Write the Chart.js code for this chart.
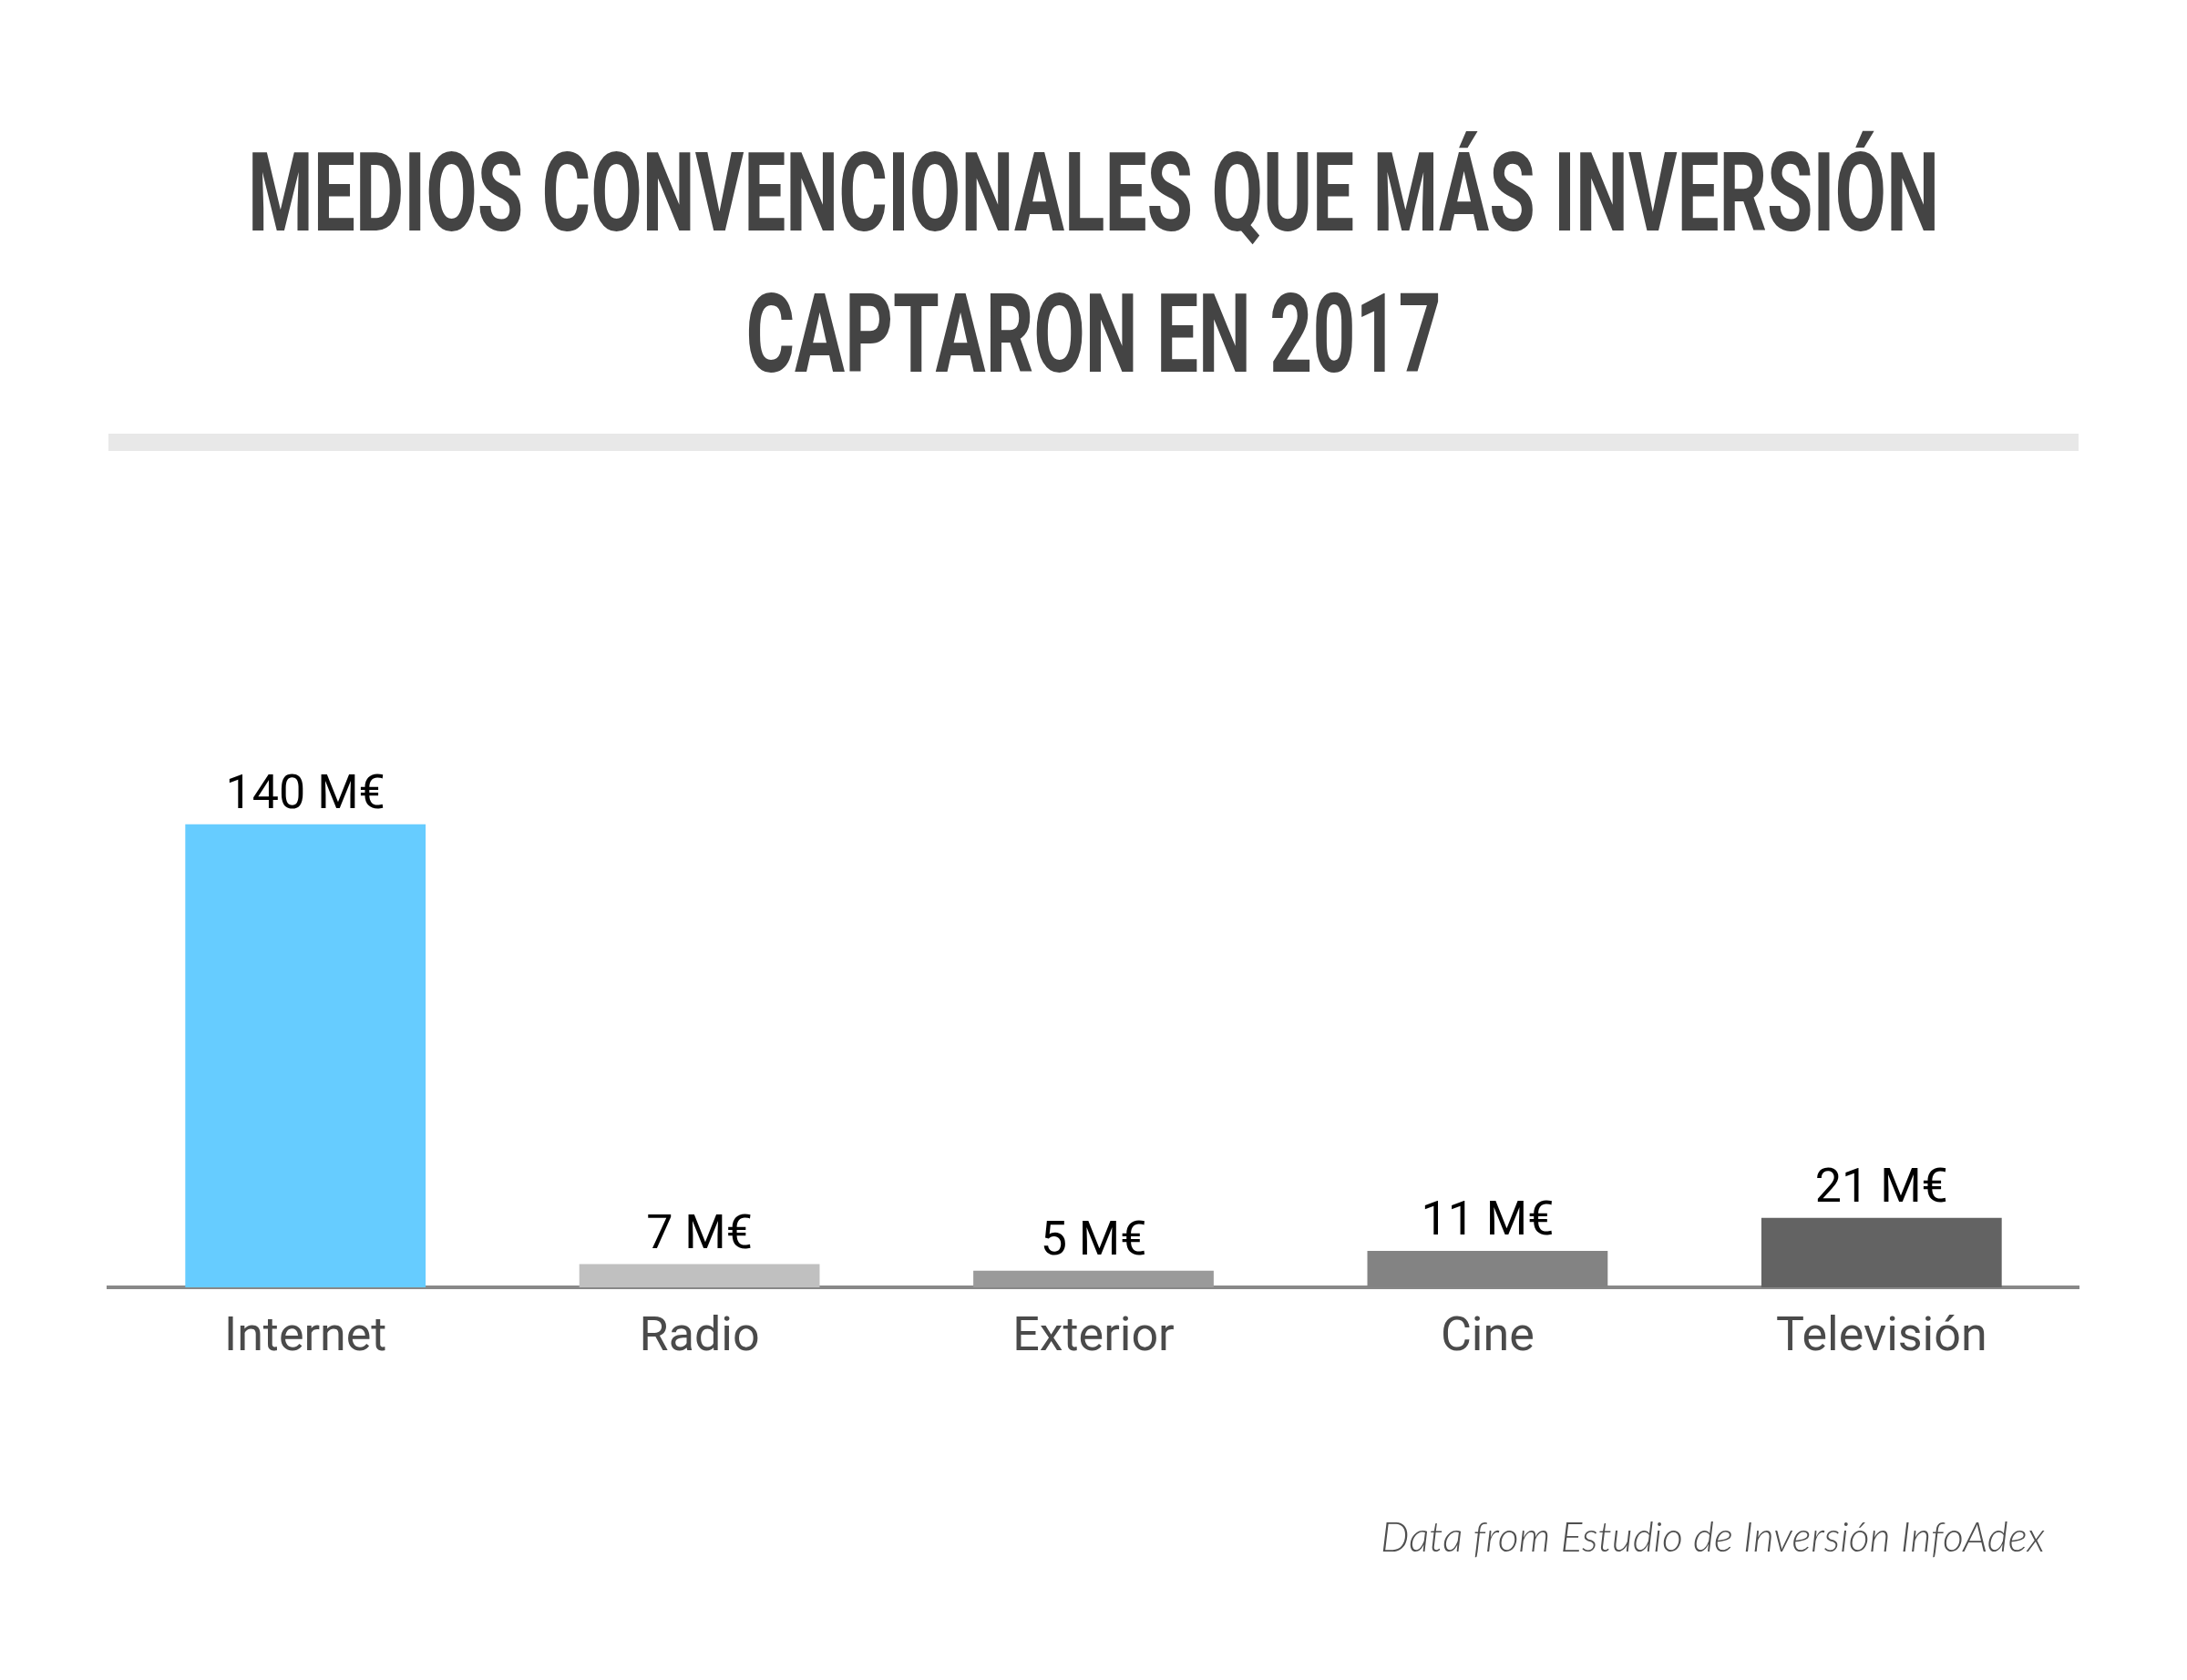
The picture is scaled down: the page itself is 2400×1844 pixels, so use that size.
<!DOCTYPE html>
<html>
<head>
<meta charset="utf-8">
<script src="https://cdn.jsdelivr.net/npm/chart.js@4/dist/chart.umd.min.js"></script>
<style>
  html, body { margin: 0; padding: 0; background: #fff; }
  #wrap { position: relative; width: 2400px; height: 1844px; }
</style>
</head>
<body>
<div id="wrap"><canvas id="myChart"></canvas></div>
<script>
let medios = ['Internet', 'Radio', 'Exterior', 'Cine', 'Televisión'];
let inversion = [140, 7, 5, 11, 21];
let colores = ['#66ccff', '#c0c0c0', '#9a9a9a', '#838383', '#636363'];
let unidad = ' M€';
let titulo = ['MEDIOS CONVENCIONALES QUE MÁS INVERSIÓN', 'CAPTARON EN 2017'];
let fuente = 'Data from Estudio de Inversión InfoAdex';

// title, grey rule and source note
const decor = {
    id: 'decor',
    beforeDraw(chart) {
        const c = chart.ctx;
        c.save();
        c.fillStyle = '#fff';
        c.fillRect(0, 0, chart.width, chart.height);

        c.fillStyle = '#444444';
        c.font = 'bold 121px Roboto, "Liberation Sans", sans-serif';
        c.textAlign = 'center';
        c.textBaseline = 'alphabetic';
        const sx = 1856 / c.measureText(titulo[0]).width;
        const baselines = [253, 408];
        titulo.forEach((line, i) => {
            c.save();
            c.translate(1200, baselines[i]);
            c.scale(sx, 1);
            c.fillText(line, 0, 0);
            c.restore();
        });

        c.fillStyle = '#e8e8e8';
        c.fillRect(119, 476, 2162, 19);

        c.fillStyle = '#4f4f4f';
        c.font = 'italic 300 44.5px Lato, "Open Sans", sans-serif';
        c.textAlign = 'right';
        c.fillText(fuente, 2244, 1703);
        c.restore();
    }
};

// value labels above bars
const etiquetas = {
    id: 'etiquetas',
    afterDatasetsDraw(chart) {
        const c = chart.ctx;
        const meta = chart.getDatasetMeta(0);
        c.save();
        c.fillStyle = '#000';
        c.font = '52px Roboto, sans-serif';
        c.textAlign = 'center';
        c.textBaseline = 'alphabetic';
        meta.data.forEach((bar, i) => {
            c.fillText(inversion[i] + unidad, bar.x, bar.y - 18);
        });
        c.restore();
    }
};

let ctx = document.getElementById('myChart').getContext('2d');
let chart = new Chart(ctx, {
    type: 'bar',
    data: {
        labels: medios,
        datasets: [
            {
                data: inversion,
                backgroundColor: colores,
                borderWidth: 0,
                categoryPercentage: 1,
                barPercentage: 0.61
            }
        ]
    },
    options: {
        responsive: true,
        maintainAspectRatio: false,
        devicePixelRatio: 1,
        animation: false,
        layout: { padding: { top: 687, left: 119, right: 119, bottom: 331 } },
        plugins: {
            legend: { display: false },
            tooltip: { enabled: false }
        },
        scales: {
            x: {
                grid: { display: false },
                border: { display: true, color: '#888888', width: 4 },
                ticks: {
                    color: '#4a4a4a',
                    font: { family: 'Roboto', size: 52 },
                    padding: 17
                },
                afterFit: (scale) => { scale.height = 100; }
            },
            y: {
                display: false,
                min: 0,
                max: 200
            }
        }
    },
    plugins: [decor, etiquetas]
});
</script>
</body>
</html>
